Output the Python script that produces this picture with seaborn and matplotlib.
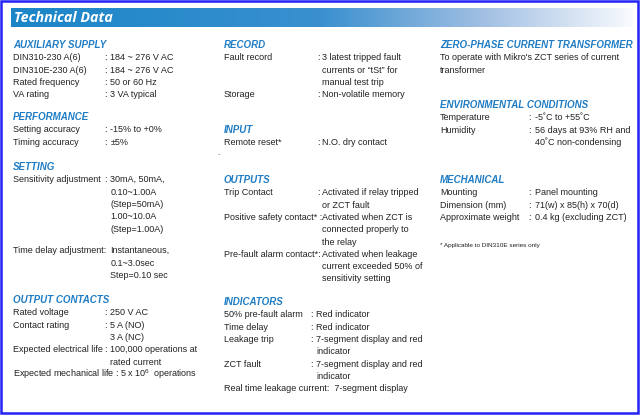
import numpy as np
import matplotlib
matplotlib.use("Agg")
import matplotlib.pyplot as plt
import seaborn as sns

# --- data (text of the sheet) ---
title = "Technical Data"

aux_supply = [("DIN310-230 A(6)", ["184 ~ 276 V AC"]),
              ("DIN310E-230 A(6)", ["184 ~ 276 V AC"]),
              ("Rated frequency", ["50 or 60 Hz"]),
              ("VA rating", ["3 VA typical"])]
performance = [("Setting accuracy", ["-15% to +0%"]),
               ("Timing accuracy", ["\u00b15%"])]
setting = [("Sensitivity adjustment", ["30mA, 50mA,", "0.10~1.00A", "(Step=50mA)",
                                       "1.00~10.0A", "(Step=1.00A)"]),
           None,
           ("Time delay adjustment:", ["Instantaneous,", "0.1~3.0sec", "Step=0.10 sec"])]
output_contacts = [("Rated voltage", ["250 V AC"]),
                   ("Contact rating", ["5 A (NO)", "3 A (NC)"]),
                   ("Expected electrical life", ["100,000 operations at", "rated current"]),
                   ("Expected mechanical life : 5 x 10$^6$  operations", [])]

record = [("Fault record", ["3 latest tripped fault", "currents or \u201ctSt\u201d for",
                            "manual test trip"]),
          ("Storage", ["Non-volatile memory"])]
inputs = [("Remote reset*", ["N.O. dry contact"])]
outputs = [("Trip Contact", ["Activated if relay tripped", "or ZCT fault"]),
           ("Positive safety contact* :", ["Activated when ZCT is", "connected properly to",
                                           "the relay"]),
           ("Pre-fault alarm contact*:", ["Activated when leakage",
                                          "current exceeded 50% of", "sensitivity setting"])]
indicators = [("50% pre-fault alarm", ["Red indicator"]),
              ("Time delay", ["Red indicator"]),
              ("Leakage trip", ["7-segment display and red", "indicator"]),
              ("ZCT fault", ["7-segment display and red", "indicator"]),
              ("Real time leakage current:  7-segment display", [])]

zct_text = ["To operate with Mikro's ZCT series of current", "transformer"]
environment = [("Temperature", ["-5\u02daC to +55\u02daC"]),
               ("Humidity", ["56 days at 93% RH and", "40\u02daC non-condensing"])]
mechanical = [("Mounting", ["Panel mounting"]),
              ("Dimension (mm)", ["71(w) x 85(h) x 70(d)"]),
              ("Approximate weight", ["0.4 kg (excluding ZCT)"])]
footnote = "* Applicable to DIN310E series only"

sns.set_theme(style="white")
plt.rcParams["font.family"] = ["Liberation Sans", "DejaVu Sans"]
plt.rcParams["mathtext.fontset"] = "custom"
plt.rcParams["mathtext.rm"] = "Liberation Sans"

HEAD = "#1f7cc4"
TXT = "#222222"
LH = 12.3
FS = 6.5
HFS = 7.0

fig = plt.figure(figsize=(6.4, 4.15), dpi=100)
ax = fig.add_axes([0, 0, 1, 1])
ax.set_xlim(0, 640)
ax.set_ylim(415, 0)
ax.axis("off")

# banner with gradient
grad = np.linspace(0, 1, 256)[None, :]
cmap = matplotlib.colors.LinearSegmentedColormap.from_list(
    "g", [(0, "#1a86c8"), (0.5, "#3a90cf"), (0.75, "#9dbde2"), (1, "#f8fafd")])
ax.imshow(grad, cmap=cmap, extent=[11, 633, 27.5, 9], aspect="auto", zorder=0)
ax.text(14, 18.5, title, color="white", fontsize=10.3, fontweight="bold", style="italic",
        family=["Open Sans", "DejaVu Sans"], va="center", ha="left")

# outer frame
ax.add_patch(plt.Rectangle((0.8, 0.8), 637.6, 412.6, fill=False, ec="#2323f5", lw=1.8))


def section(x, y, head, rows, colon_x, val_x):
    ax.text(x, y, head, color=HEAD, fontsize=HFS, fontweight="bold", style="italic",
            va="center", ha="left")
    yy = y + 12.8
    for row in rows:
        if row is None:
            yy += 9.5
            continue
        label, vals = row
        ax.text(x, yy, label, color=TXT, fontsize=FS, va="center", ha="left")
        if vals:
            if not label.endswith(":"):
                ax.text(colon_x, yy, ":", color=TXT, fontsize=FS, va="center", ha="left")
            for v in vals:
                ax.text(val_x, yy, v, color=TXT, fontsize=FS, va="center", ha="left")
                yy += LH
        else:
            yy += LH


# column 1
section(13, 45, "AUXILIARY SUPPLY", aux_supply, 104.5, 110.5)
section(13, 117, "PERFORMANCE", performance, 104.5, 110.5)
section(13, 167, "SETTING", setting, 104.5, 110.5)
section(13, 300, "OUTPUT CONTACTS", output_contacts, 104.5, 110.5)

# column 2
section(224, 45, "RECORD", record, 317, 322)
section(224, 130, "INPUT", inputs, 317, 322)
section(224, 180, "OUTPUTS", outputs, 317, 322.5)
section(224, 302, "INDICATORS", indicators, 310, 316)
ax.text(218, 153.5, ".", color=TXT, fontsize=6, va="center", ha="center")

# column 3
ax.text(440, 45, "ZERO-PHASE CURRENT TRANSFORMER", color=HEAD, fontsize=HFS,
        fontweight="bold", style="italic", va="center", ha="left")
for i, t in enumerate(zct_text):
    ax.text(440, 57.8 + i * LH, t, color=TXT, fontsize=FS, va="center", ha="left")
section(440, 105, "ENVIRONMENTAL CONDITIONS", environment, 528, 535)
section(440, 180, "MECHANICAL", mechanical, 528, 535)
ax.text(440, 245, footnote, color=TXT, fontsize=4.6, va="center", ha="left")

fig.savefig("out.png", dpi=100)
